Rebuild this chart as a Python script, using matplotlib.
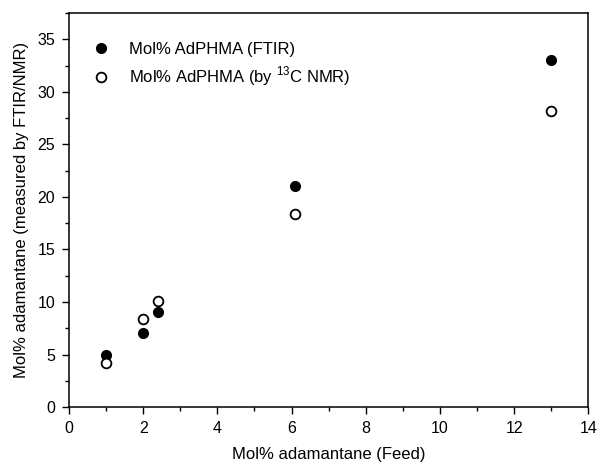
import matplotlib
matplotlib.use("Agg")
import matplotlib.pyplot as plt
from matplotlib.ticker import MultipleLocator

plt.rcParams['font.family'] = ['Liberation Sans', 'DejaVu Sans']
plt.rcParams['mathtext.fontset'] = 'custom'
plt.rcParams['mathtext.rm'] = 'Liberation Sans'

# feed composition (mol% adamantane)
feed = [1.0, 2.0, 2.4, 6.1, 13.0]
ftir = [5.0, 7.0, 9.0, 21.0, 33.0]
nmr = [4.2, 8.4, 10.1, 18.4, 28.2]

fig = plt.figure(figsize=(5.99, 4.65), dpi=100)
ax = fig.add_axes([0.1152, 0.1247, 0.867, 0.847])

ax.plot(feed, ftir, 'o', color='black', markersize=7, linestyle='none',
        label='Mol% AdPHMA (FTIR)')
ax.plot(feed, nmr, 'o', markerfacecolor='white', markeredgecolor='black',
        markeredgewidth=1.3, markersize=7, linestyle='none',
        label=r'Mol% AdPHMA (by $^{\mathregular{13}}$C NMR)')

ax.set_xlim(0, 14)
ax.set_ylim(0, 37.5)
ax.xaxis.set_major_locator(MultipleLocator(2))
ax.xaxis.set_minor_locator(MultipleLocator(1))
ax.yaxis.set_major_locator(MultipleLocator(5))
ax.yaxis.set_minor_locator(MultipleLocator(2.5))
ax.tick_params(which='major', direction='out', length=5, width=1,
               labelsize=11.5, pad=5)
ax.tick_params(which='minor', direction='out', length=3, width=1)
for s in ax.spines.values():
    s.set_linewidth(1.1)

ax.set_xlabel('Mol% adamantane (Feed)', fontsize=12, labelpad=8)
ax.set_ylabel('Mol% adamantane (measured by FTIR/NMR)', fontsize=12, labelpad=6)

ax.legend(loc='upper left', bbox_to_anchor=(0.0, 0.965), frameon=False,
          fontsize=12, handletextpad=0.7, labelspacing=0.45)

fig.savefig('out.png', dpi=100)
